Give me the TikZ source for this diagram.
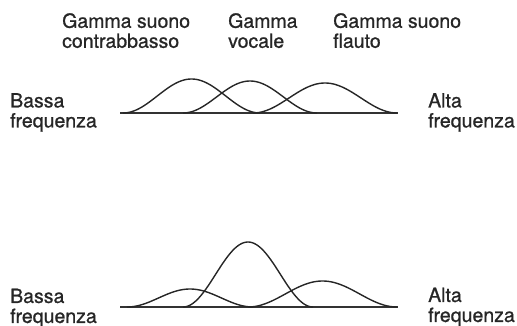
\documentclass[tikz,border=0pt]{standalone}
\usepackage{fontspec}
\setmainfont{TeX Gyre Heros}[FakeBold=0.9]
\begin{document}
\begin{tikzpicture}[x=1pt,y=-1pt,
  lbl/.style={anchor=north west,inner sep=0pt,align=left,font=\fontsize{19.5}{20}\selectfont,text=black!85},
  curve/.style={line width=1.4pt,black!85},
  baseln/.style={line width=1.8pt,black!80}]
\useasboundingbox (0,0) rectangle (517,326);
% labels top
\node[lbl] (tc) at (62,13) {Gamma suono\\contrabbasso};
\node[lbl] (tv) at (228,13) {Gamma\\vocale};
\node[lbl] (tf) at (333,13) {Gamma suono\\flauto};
\node[lbl] (bl1) at (10,93) {Bassa\\frequenza};
\node[lbl] (al1) at (428,93) {Alta\\frequenza};
\node[lbl] (bl2) at (10,288.5) {Bassa\\frequenza};
\node[lbl] (al2) at (428,287.5) {Alta\\frequenza};
% top diagram
\coordinate (b1s) at (120,113);
\coordinate (b1e) at (398,113);
\draw[baseln] (b1s) -- (b1e);
\draw[curve] plot[domain=123:260,samples=80] (\x,{113-17*(1-cos((\x-123)/137*360))});
\draw[curve] plot[domain=183:317,samples=80] (\x,{113-16*(1-cos((\x-183)/134*360))});
\draw[curve] plot[domain=253:397,samples=80] (\x,{113-15*(1-cos((\x-253)/144*360))});
% bottom diagram
\coordinate (b2s) at (120,307);
\coordinate (b2e) at (398,307);
\draw[baseln] (b2s) -- (b2e);
\draw[curve] plot[domain=127:253,samples=80] (\x,{307-9*(1-cos((\x-127)/126*360))});
\draw[curve] plot[domain=183:313,samples=80] (\x,{307-32.5*(1-cos((\x-183)/130*360))});
\draw[curve] plot[domain=248:397,samples=80] (\x,{307-13*(1-cos((\x-248)/149*360))});
\end{tikzpicture}
\end{document}
